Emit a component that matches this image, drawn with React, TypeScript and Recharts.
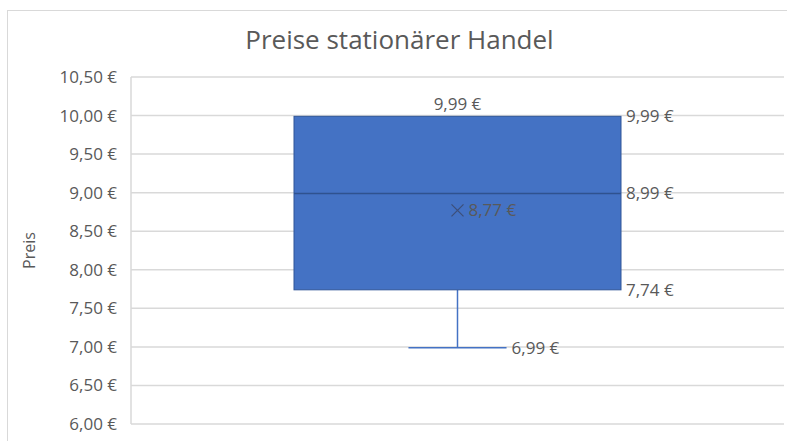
import React from 'react';
import {
  ComposedChart,
  Bar,
  Scatter,
  XAxis,
  YAxis,
  CartesianGrid,
  Label,
} from 'recharts';

const categories = ['Stationärer Handel'];
const minValues = [6.99];
const q1Values = [7.74];
const medianValues = [8.99];
const q3Values = [9.99];
const maxValues = [9.99];
const meanValues = [8.77];
const yTicks = [6, 6.5, 7, 7.5, 8, 8.5, 9, 9.5, 10, 10.5];

const data = categories.map((category, i) => ({
  category,
  min: minValues[i],
  q1: q1Values[i],
  median: medianValues[i],
  q3: q3Values[i],
  max: maxValues[i],
  mean: meanValues[i],
}));

const FONT = '"Open Sans", sans-serif';
const TEXT = '#595959';
const BOX = '#4472c4';

const euro = (v: number) => v.toFixed(2).replace('.', ',') + ' €';

// Box + Whisker, gezeichnet innerhalb des Bereichs [min, max] der Bar
const BoxShape = (props: any) => {
  const { x, y, width, height, payload } = props;
  const { min, q1, median, q3, max } = payload;
  const py = (v: number) => y + (height * (max - v)) / (max - min);
  const cx = x + width / 2;
  const capW = width * 0.3;
  const yQ1 = py(q1);
  const yQ3 = py(q3);
  const yMed = py(median);
  const yMin = py(min);
  const yMax = py(max);
  const lbl = { fontFamily: FONT, fontSize: 17, fill: TEXT };
  return (
    <g>
      {/* Whisker unten */}
      <line x1={cx} x2={cx} y1={yQ1} y2={yMin} stroke={BOX} strokeWidth={1.5} />
      <line x1={cx - capW / 2} x2={cx + capW / 2} y1={yMin} y2={yMin} stroke={BOX} strokeWidth={1.5} />
      {/* Whisker oben */}
      {yMax < yQ3 && (
        <>
          <line x1={cx} x2={cx} y1={yQ3} y2={yMax} stroke={BOX} strokeWidth={1.5} />
          <line x1={cx - capW / 2} x2={cx + capW / 2} y1={yMax} y2={yMax} stroke={BOX} strokeWidth={1.5} />
        </>
      )}
      <rect x={x} y={yQ3} width={width} height={yQ1 - yQ3} fill={BOX} stroke="#2f5597" strokeWidth={1} />
      <line x1={x} x2={x + width} y1={yMed} y2={yMed} stroke="#2f528f" strokeWidth={1.5} />
      {/* Beschriftungen */}
      <text x={cx} y={yMax - 6} textAnchor="middle" {...lbl}>{euro(max)}</text>
      <text x={x + width + 5} y={yQ3} dy={6} {...lbl}>{euro(q3)}</text>
      <text x={x + width + 5} y={yMed} dy={6} {...lbl}>{euro(median)}</text>
      <text x={x + width + 5} y={yQ1} dy={6} {...lbl}>{euro(q1)}</text>
      <text x={cx + capW / 2 + 5} y={yMin} dy={6} {...lbl}>{euro(min)}</text>
    </g>
  );
};

const MeanShape = (props: any) => {
  const { cx, cy, payload } = props;
  const s = 6;
  return (
    <g>
      <path
        d={`M${cx - s},${cy - s}L${cx + s},${cy + s}M${cx - s},${cy + s}L${cx + s},${cy - s}`}
        stroke="#3d4f7a"
        strokeWidth={1.3}
        fill="none"
      />
      <text x={cx + 11} y={cy} dy={6} fontFamily={FONT} fontSize={17} fill={TEXT}>
        {euro(payload.mean)}
      </text>
    </g>
  );
};

export default function App() {
  return (
    <div
      style={{
        position: 'absolute',
        left: 0,
        top: 0,
        width: 787,
        height: 441,
        overflow: 'hidden',
        background: '#fff',
      }}
    >
      <div
        style={{
          position: 'absolute',
          left: 7,
          top: 10,
          width: 800,
          height: 450,
          border: '1px solid #d9d9d9',
        }}
      />
      <div
        style={{
          position: 'absolute',
          left: 0,
          width: 799,
          top: 21,
          textAlign: 'center',
          fontFamily: FONT,
          fontSize: 26,
          color: TEXT,
        }}
      >
        Preise stationärer Handel
      </div>
      <div style={{ position: 'absolute', left: 0, top: 0 }}>
        <ComposedChart
          width={787}
          height={441}
          data={data}
          margin={{ top: 77, right: 3, bottom: 17, left: 0 }}
        >
          <CartesianGrid horizontal vertical={false} stroke="#d9d9d9" strokeWidth={1.5} />
          <XAxis dataKey="category" hide />
          <YAxis
            width={131}
            domain={[6, 10.5]}
            ticks={yTicks}
            interval={0}
            tickLine={false}
            tickMargin={8}
            axisLine={{ stroke: '#d9d9d9', strokeWidth: 1.5 }}
            tickFormatter={euro}
            tick={{ fill: TEXT, fontSize: 17, fontFamily: FONT }}
          >
            <Label
              content={({ viewBox }: any) => {
                const lx = viewBox.x + 29;
                const ly = viewBox.y + viewBox.height / 2;
                return (
                  <text
                    x={lx}
                    y={ly}
                    transform={`rotate(-90 ${lx} ${ly})`}
                    textAnchor="middle"
                    dominantBaseline="central"
                    fontFamily={FONT}
                    fontSize={16}
                    fill={TEXT}
                  >
                    Preis
                  </text>
                );
              }}
            />
          </YAxis>
          <Bar
            dataKey={(d: any) => [d.min, d.max]}
            barSize={327}
            shape={<BoxShape />}
            isAnimationActive={false}
          />
          <Scatter dataKey="mean" shape={<MeanShape />} isAnimationActive={false} />
        </ComposedChart>
      </div>
    </div>
  );
}
